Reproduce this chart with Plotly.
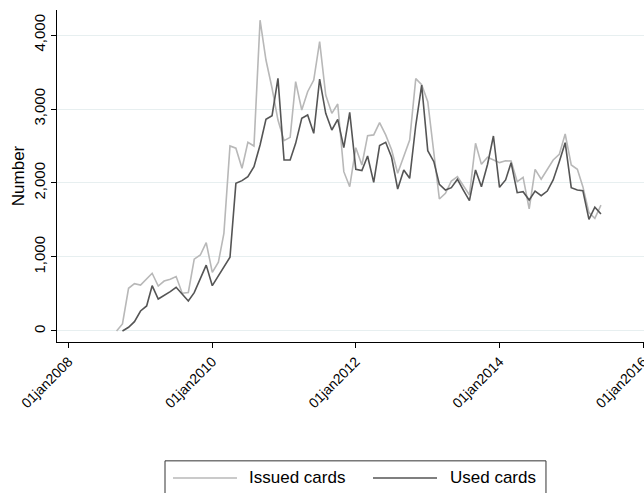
import pandas as pd
import plotly.graph_objects as go

# Monthly counts of issued cards, Sep 2008 - Jun 2015
issued_start = "2008-09-01"
issued_cards = [
    0, 95, 577, 640,
    620, 700, 780, 608, 675, 700, 735, 510, 520, 970, 1027, 1193,
    793, 930, 1320, 2500, 2470, 2198, 2550, 2500, 4200, 3662, 3280, 2851,
    2572, 2617, 3370, 2986, 3234, 3392, 3910, 3189, 2941, 3067, 2153, 1950,
    2477, 2243, 2640, 2650, 2815, 2650, 2450, 2131, 2356, 2581, 3410, 3330,
    3099, 2400, 1784, 1860, 2027, 2086, 1959, 1838, 2536, 2252, 2347, 2311,
    2275, 2300, 2297, 2018, 2077, 1649, 2185, 2050, 2176, 2311, 2387, 2662,
    2243, 2185, 1950, 1599, 1523, 1700,
]

# Monthly counts of used cards, Oct 2008 - Jun 2015
used_start = "2008-10-01"
used_cards = [
    0, 50, 126,
    270, 338, 612, 432, 477, 532, 590, 500, 405, 518, 712, 890,
    612, 740, 870, 996, 1995, 2032, 2086, 2221, 2514, 2860, 2910, 3414,
    2311, 2311, 2536, 2874, 2919, 2671, 3405, 2941, 2716, 2860, 2477, 2955,
    2185, 2167, 2365, 2009, 2505, 2550, 2347, 1919, 2176, 2063, 2780, 3324,
    2437, 2288, 1982, 1905, 1937, 2050, 1905, 1761, 2176, 1950, 2250, 2635,
    1941, 2041, 2275, 1869, 1882, 1770, 1891, 1829, 1891, 2041, 2288, 2545,
    1937, 1905, 1896, 1509, 1672, 1581,
]

x_tick_dates = ["2008-01-01", "2010-01-01", "2012-01-01", "2014-01-01", "2016-01-01"]
x_tick_labels = ["01jan2008", "01jan2010", "01jan2012", "01jan2014", "01jan2016"]
y_tick_values = [0, 1000, 2000, 3000, 4000]

series_names = ["Issued cards", "Used cards"]
series_colors = ["#b8b8b8", "#555555"]

issued_dates = pd.date_range(issued_start, periods=len(issued_cards), freq="MS")
used_dates = pd.date_range(used_start, periods=len(used_cards), freq="MS")

FONT = "Arial, Liberation Sans, sans-serif"

fig = go.Figure()
fig.add_trace(go.Scatter(
    x=issued_dates, y=issued_cards, mode="lines", name=series_names[0],
    line=dict(color=series_colors[0], width=1.6),
))
fig.add_trace(go.Scatter(
    x=used_dates, y=used_cards, mode="lines", name=series_names[1],
    line=dict(color=series_colors[1], width=1.6),
))

fig.update_layout(
    width=644, height=493,
    margin=dict(l=57, r=0, t=10, b=151, autoexpand=False),
    paper_bgcolor="white", plot_bgcolor="white",
    font=dict(family=FONT, size=14, color="black"),
    showlegend=False,
)

# Legend box below the plot, drawn in paper coordinates
legend_top, legend_bottom = -0.358, -0.49
legend_row = -0.4096
fig.add_shape(type="rect", xref="paper", yref="paper",
              x0=0.184, x1=0.833, y0=legend_bottom, y1=legend_top,
              line=dict(color="#333333", width=1), fillcolor="white")
legend_entries = [(0.1976, 0.3066, 0.3237), (0.5383, 0.6474, 0.6661)]
for (lx0, lx1, tx), name, color in zip(legend_entries, series_names, series_colors):
    fig.add_shape(type="line", xref="paper", yref="paper",
                  x0=lx0, x1=lx1, y0=legend_row, y1=legend_row,
                  line=dict(color=color, width=1.6))
    fig.add_annotation(xref="paper", yref="paper", x=tx, y=legend_row,
                       text=name, showarrow=False, xanchor="left", yanchor="middle",
                       font=dict(size=17, color="black"))

fig.update_xaxes(
    type="date",
    range=["2007-11-03", "2016-01-06"],
    tickvals=x_tick_dates, ticktext=x_tick_labels,
    tickangle=-45, tickfont=dict(size=14),
    ticklabeloverflow="allow",
    ticks="outside", ticklen=5, tickcolor="black",
    showline=True, linecolor="black", linewidth=1,
    showgrid=False, zeroline=False,
)
fig.update_yaxes(
    range=[-149, 4338],
    tickvals=y_tick_values, tickformat=",",
    tickangle=-90, tickfont=dict(size=15),
    ticks="outside", ticklen=5, tickcolor="black",
    showline=True, linecolor="black", linewidth=1,
    showgrid=True, gridcolor="#e7eff0", gridwidth=1,
    zeroline=False,
    title=dict(text="Number", font=dict(size=17), standoff=2),
)

fig.write_html("out.html")
